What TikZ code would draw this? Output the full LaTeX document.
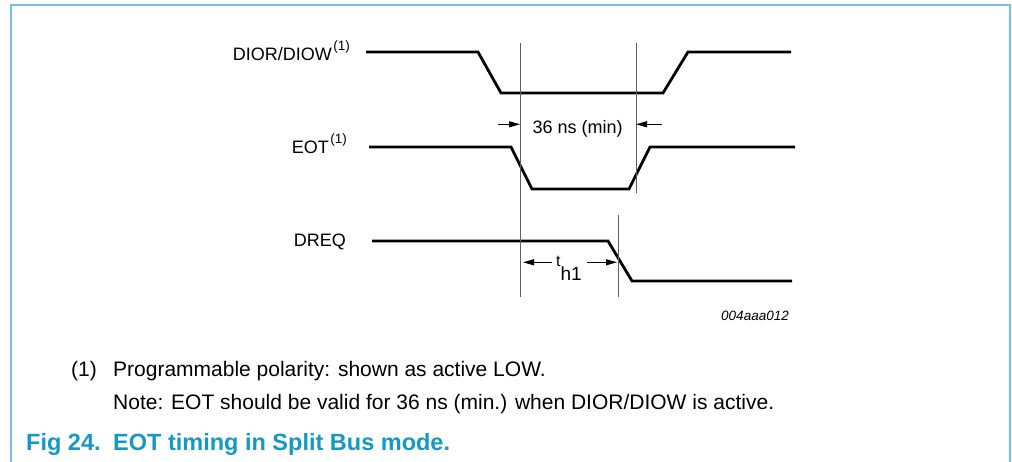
\documentclass[tikz,border=0pt]{standalone}
\usepackage{fontspec}
\setmainfont{Liberation Sans}
\usetikzlibrary{arrows.meta}
\definecolor{framecyan}{RGB}{110,196,224}
\definecolor{captioncyan}{RGB}{20,152,196}
\definecolor{markergray}{RGB}{95,95,95}
\def\supone{\kern1.5pt\raisebox{10pt}{\fontsize{13.5}{15}\selectfont(1)}}

\begin{document}
\begin{tikzpicture}[x=1pt, y=-1pt,
		wave/.style={line width=2.8pt, line join=miter, color=black},
		marker/.style={line width=1pt, color=markergray},
		dimarrow/.style={line width=0.9pt, -{Triangle[length=11pt, width=6pt]}},
		siglabel/.style={font=\fontsize{18}{20}\selectfont, anchor=base east, inner sep=0pt},
		notetext/.style={font=\fontsize{21}{24}\selectfont, anchor=base west, inner sep=0pt},
		captext/.style={notetext, font=\fontsize{23.5}{26}\selectfont\bfseries, color=captioncyan}]
		%%%%% START %%%%%
		
		\useasboundingbox (0, 0) rectangle (1012, 462);
		\draw[line width=2pt, color=framecyan] (11, 462) -- (11, 5) -- (1010, 5) -- (1010, 462);
		
		\node[siglabel] (dior) at (350, 60.7) {DIOR/DIOW\supone};
		\node[siglabel] (eot) at (347, 153.3) {EOT\supone};
		\node[siglabel] (dreq) at (346, 246.7) {DREQ};
		
		\draw[wave] (366, 52) -- (478, 52) -- (501, 93) -- (663, 93) -- (688, 52) -- (791, 52);
		\draw[wave] (369, 147) -- (511, 147) -- (532, 189) -- (629, 189) -- (650, 147) -- (795, 147);
		\draw[wave] (372, 241) -- (608, 241) -- (632, 281) -- (792, 281);
		
		\coordinate (mark1top) at (520, 43);
		\coordinate (mark1bot) at (520, 297);
		\coordinate (mark2top) at (636, 43);
		\coordinate (mark2bot) at (636, 193);
		\coordinate (mark3top) at (618, 215);
		\coordinate (mark3bot) at (618, 297);
		\draw[marker] (mark1top) -- (mark1bot);
		\draw[marker] (mark2top) -- (mark2bot);
		\draw[marker] (mark3top) -- (mark3bot);
		
		\coordinate (ns36left) at (498, 124.3);
		\coordinate (ns36right) at (662, 124.3);
		\draw[dimarrow] (ns36left) -- (ns36left -| mark1top);
		\draw[dimarrow] (ns36right) -- (ns36right -| mark2top);
		\node[anchor=base west, inner sep=0pt, font=\fontsize{18}{20}\selectfont] (ns36) at (532.5, 133.5) {36 ns (min)};
		
		\coordinate (th1left) at (552, 262.3);
		\coordinate (th1right) at (587, 262.3);
		\draw[dimarrow] (th1left) -- ([xshift=3pt]th1left -| mark1top);
		\draw[dimarrow] (th1right) -- ([xshift=-1pt]th1right -| mark3top);
		\node[anchor=base west, inner sep=0pt] (th1) at (556, 267) {\fontsize{16}{18}\selectfont t\raisebox{-14pt}{\fontsize{19}{20}\selectfont h1}};
		
		\node[anchor=base east, inner sep=0pt, font=\fontsize{13.5}{16}\selectfont\itshape] (figid) at (789, 320.7) {004aaa012};
		
		\node[notetext, anchor=base east] (fnmark) at (97, 376) {(1)};
		\node[notetext] (fntext) at (113, 376) {Programmable polarity: shown as active LOW.};
		\node[notetext] (fnnote) at (113, 409.5) {Note: EOT should be valid for 36 ns (min.) when DIOR/DIOW is active.};
		
		\node[captext] (fignum) at (26, 450) {Fig 24.};
		\node[captext] (figtitle) at (113, 450) {EOT timing in Split Bus mode.};
		
		%%%%% END %%%%%
	\end{tikzpicture}
\end{document}
